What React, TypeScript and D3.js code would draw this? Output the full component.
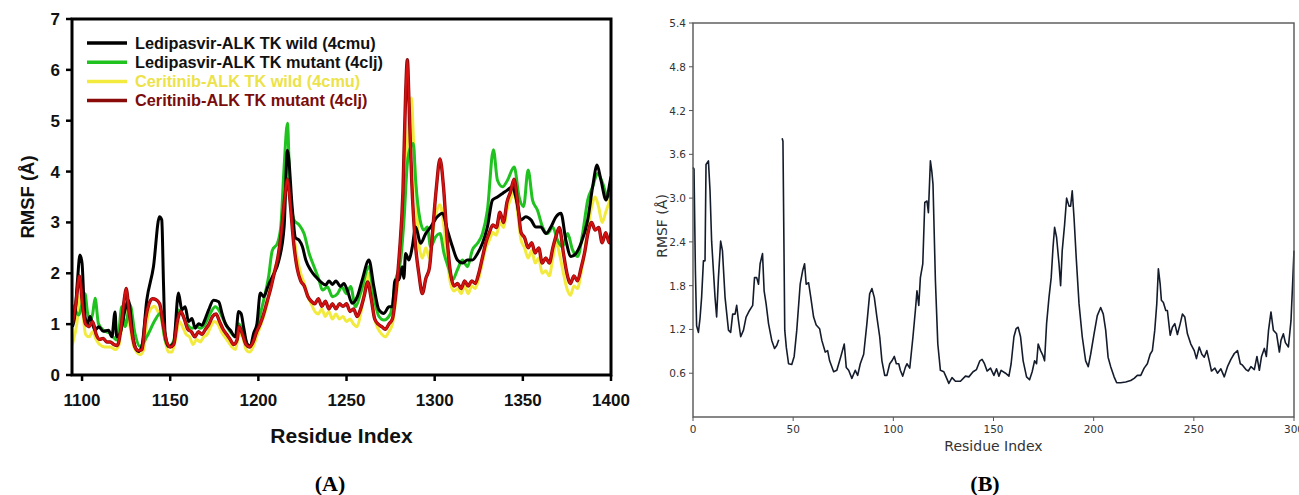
import React from "react";
import * as d3 from "d3";

// ---------- Panel A data (Residue, RMSF Å) ----------
const ledipasvirWild: [number, number][] = [
  [1094.5, 0.95], [1096, 1.2], [1097.5, 1.9], [1098.8, 2.36], [1100, 2.2], [1101, 1.5], [1101.7, 1.15], [1103, 1.0], [1104.5, 1.15],
  [1106, 1.0], [1107.4, 0.88], [1109.5, 0.95], [1112, 0.86], [1115, 0.88], [1116.9, 0.75], [1118.7, 1.24], [1119.6, 0.75],
  [1121.6, 0.82], [1124.4, 1.28], [1126.3, 1.47], [1129.1, 0.69], [1132, 0.46], [1133.9, 0.56], [1136.7, 1.47], [1140.5, 2.13],
  [1143.9, 3.11], [1145.2, 3.05], [1146.2, 1.8], [1147.1, 0.82], [1149, 0.56], [1151.9, 0.62], [1154.7, 1.61], [1156.6, 1.28],
  [1158.5, 1.34], [1160.4, 1.05], [1162.3, 1.11], [1164.2, 0.92], [1166.1, 1.01], [1168, 0.98], [1169.9, 1.11], [1171.8, 1.28],
  [1174.6, 1.47], [1177.5, 1.44], [1179.4, 1.21], [1181.3, 1.01], [1184.1, 0.88], [1187, 0.75], [1188.8, 1.25], [1190.2, 1.21],
  [1191.6, 0.95], [1193.5, 0.62], [1195.4, 0.56], [1197.3, 0.82], [1199.2, 1.01], [1201.1, 1.61], [1203, 1.54], [1205.5, 1.75],
  [1207.9, 1.93], [1211.7, 2.26], [1214.6, 2.91], [1216.5, 4.42], [1219.3, 3.25], [1221, 2.7], [1223.1, 2.65], [1225, 2.52],
  [1226.9, 2.26], [1229.7, 2.06], [1232.6, 1.93], [1235.4, 1.83], [1238.2, 1.77], [1240, 1.85], [1242, 1.78], [1244, 1.85],
  [1246.6, 1.74], [1248.5, 1.8], [1250.4, 1.67], [1253.2, 1.41], [1256.1, 1.54], [1258.9, 1.87], [1262.7, 2.26], [1265.5, 1.74],
  [1268.4, 1.28], [1271.2, 1.21], [1274.1, 1.34], [1276, 1.34], [1277.5, 1.87], [1279.7, 1.87], [1281.6, 2.13], [1282.5, 1.9],
  [1283.5, 2.39], [1285.4, 2.26], [1287.3, 2.52], [1289.2, 2.91], [1292, 2.59], [1294.9, 2.78], [1297.7, 2.91], [1301.5, 3.11],
  [1304.4, 3.18], [1307.2, 2.85], [1310.1, 2.52], [1312.9, 2.26], [1315.7, 2.2], [1318.6, 2.26], [1321.4, 2.26], [1324.3, 2.39],
  [1327.1, 2.59], [1329.9, 2.91], [1332.8, 3.44], [1335.6, 3.5], [1338.5, 3.57], [1341.3, 3.64], [1344.1, 3.7], [1346, 3.5],
  [1348.9, 3.05], [1351.7, 3.11], [1354.6, 3.05], [1357.4, 2.91], [1360.2, 2.91], [1363.1, 2.78], [1365.9, 2.91], [1368.8, 3.11],
  [1371.6, 3.18], [1374.4, 2.65], [1377.3, 2.33], [1380.1, 2.39], [1383, 2.59], [1386.8, 3.05], [1389.6, 3.7], [1392.1, 4.13],
  [1394.3, 3.83], [1397.2, 3.44], [1399.6, 3.83], [1400, 3.9],
];

const ledipasvirMutant: [number, number][] = [
  [1094.5, 1.38], [1096.5, 1.25], [1098.2, 1.18], [1100, 1.4], [1101.7, 1.6], [1103, 1.25], [1104.5, 1.08], [1106, 1.2],
  [1107.4, 1.51], [1109.3, 1.01], [1112.1, 0.88], [1115.9, 0.82], [1119.6, 0.69], [1121, 0.9], [1122.5, 1.34], [1124.4, 0.95],
  [1127.2, 1.38], [1130, 0.82], [1132.8, 0.56], [1136.7, 0.75], [1141.4, 1.08], [1144.3, 1.21], [1147.1, 0.69], [1149, 0.56],
  [1151.9, 0.66], [1154.7, 1.28], [1156.6, 1.21], [1159.4, 1.01], [1162.3, 0.92], [1165.1, 0.95], [1167, 0.92], [1169.9, 1.01],
  [1172.7, 1.21], [1175.6, 1.34], [1177.5, 1.28], [1180.3, 1.08], [1184.1, 0.85], [1187, 0.75], [1188.8, 1.01], [1191.6, 0.82],
  [1194.5, 0.56], [1197.3, 0.69], [1200.2, 1.08], [1203, 1.47], [1205.8, 1.93], [1207.9, 2.45], [1210.8, 2.59], [1212.7, 2.91],
  [1214.6, 4.09], [1216.5, 4.95], [1217.8, 3.77], [1220.2, 3.05], [1223.1, 2.95], [1225.9, 2.78], [1228.8, 2.39], [1231.6, 2.13],
  [1234.4, 1.87], [1236.3, 1.67], [1239.2, 1.73], [1242, 1.54], [1244.9, 1.6], [1247.3, 1.73], [1250, 1.6], [1252.3, 1.74],
  [1255.1, 1.34], [1258, 1.61], [1262.7, 2.13], [1265.5, 1.54], [1268.4, 1.15], [1271.2, 1.08], [1275, 1.21], [1277.9, 1.87],
  [1280.7, 2.26], [1282.6, 3.05], [1284.5, 4.16], [1286.4, 4.49], [1287.9, 4.55], [1289.2, 3.83], [1291.7, 3.05], [1293.9, 2.85],
  [1295.8, 2.91], [1297.7, 2.52], [1300.6, 2.72], [1303, 2.78], [1305.3, 2.39], [1308.2, 2.07], [1310.1, 1.87], [1312.9, 2.07],
  [1315.7, 2.26], [1318.6, 2.13], [1321.4, 2.46], [1324.3, 2.59], [1327.1, 2.78], [1329.9, 3.24], [1333.3, 4.43], [1335.6, 3.83],
  [1338.5, 3.7], [1341.3, 3.83], [1345.1, 4.09], [1347.9, 3.5], [1350.4, 3.31], [1353, 4.03], [1355.5, 3.44], [1358.3, 3.24],
  [1361.2, 2.91], [1364, 2.78], [1366.9, 2.91], [1369.7, 2.65], [1372.5, 2.52], [1375.4, 2.78], [1378.2, 2.46], [1381.1, 2.33],
  [1383.9, 2.78], [1386.8, 3.44], [1389.6, 3.7], [1392.4, 3.96], [1395.3, 3.77], [1398.1, 3.5], [1400, 3.57],
];

const ceritinibWild: [number, number][] = [
  [1094.5, 0.6], [1097, 1.0], [1099, 1.6], [1100.5, 1.2], [1102, 0.8], [1104, 0.75], [1106, 0.85], [1108, 0.7], [1110, 0.6],
  [1113, 0.55], [1116, 0.55], [1119, 0.5], [1121, 0.6], [1123, 1.1], [1125, 1.4], [1127, 1.0], [1129, 0.6], [1131, 0.45],
  [1133, 0.4], [1135, 0.5], [1137, 1.1], [1139, 1.3], [1141, 1.35], [1143, 1.25], [1145, 1.1], [1147, 0.7], [1149, 0.45],
  [1151, 0.45], [1153, 0.7], [1155, 1.05], [1157, 0.95], [1159, 0.8], [1161, 0.75], [1163, 0.6], [1165, 0.7], [1167, 0.65],
  [1169, 0.75], [1171, 0.8], [1173, 0.95], [1175, 1.05], [1177, 1.0], [1179, 0.85], [1181, 0.75], [1183, 0.65], [1185, 0.55],
  [1187, 0.5], [1189, 0.8], [1191, 0.75], [1193, 0.5], [1195, 0.45], [1197, 0.55], [1199, 0.75], [1201, 0.95], [1203, 1.15],
  [1205, 1.4], [1207, 1.75], [1209, 2.05], [1211, 2.3], [1213, 2.8], [1215, 3.8], [1216.5, 4.35], [1218, 3.6], [1220, 2.8],
  [1222, 2.3], [1224, 2.0], [1226, 1.8], [1228, 1.55], [1230, 1.4], [1232, 1.25], [1234, 1.2], [1236, 1.3], [1238, 1.15],
  [1240, 1.25], [1242, 1.1], [1244, 1.2], [1246, 1.1], [1248, 1.15], [1250, 1.05], [1252, 1.1], [1254, 1.0], [1256, 0.95],
  [1258, 1.2], [1260, 1.6], [1262, 2.0], [1264, 1.6], [1266, 1.1], [1268, 0.9], [1270, 0.8], [1272, 0.75], [1274, 0.85],
  [1276, 1.0], [1278, 1.5], [1280, 2.2], [1282, 3.0], [1284, 4.2], [1285.5, 5.2], [1286.8, 5.45], [1288, 4.6], [1289.5, 3.5],
  [1291, 2.6], [1293, 2.3], [1295, 2.5], [1297, 2.3], [1299, 2.8], [1301, 3.2], [1303, 3.35], [1305, 3.0], [1307, 2.3],
  [1309, 1.8], [1311, 1.65], [1313, 1.7], [1315, 1.6], [1317, 1.75], [1319, 1.6], [1321, 1.75], [1323, 1.7], [1325, 1.9],
  [1327, 2.2], [1329, 2.5], [1331, 2.65], [1333, 2.8], [1335, 2.75], [1337, 3.0], [1339, 2.9], [1341, 3.25], [1343, 3.45],
  [1345, 3.6], [1347, 3.2], [1349, 2.65], [1351, 2.5], [1353, 2.3], [1355, 2.45], [1357, 2.2], [1359, 2.3], [1361, 2.0],
  [1363, 2.05], [1365, 1.95], [1367, 2.3], [1369, 2.6], [1371, 2.35], [1373, 2.0], [1375, 1.7], [1377, 1.57], [1379, 1.75],
  [1381, 1.7], [1383, 2.0], [1385, 2.4], [1387, 2.9], [1389, 3.3], [1391, 3.5], [1393, 3.3], [1395, 3.0], [1397, 3.2],
  [1399, 3.4], [1400, 3.5],
];

const ceritinibMutant: [number, number][] = [
  [1094.5, 1.0], [1096.5, 1.4], [1098.5, 1.95], [1100.5, 1.3], [1102, 1.0], [1104, 0.95], [1106, 1.05], [1108, 0.8],
  [1110, 0.7], [1112, 0.72], [1114, 0.65], [1116, 0.65], [1118, 0.6], [1120, 0.58], [1122, 0.9], [1124, 1.5], [1125, 1.7],
  [1126.5, 1.3], [1128, 0.9], [1130, 0.55], [1132, 0.48], [1134, 0.5], [1136, 1.1], [1138, 1.4], [1140, 1.5], [1142, 1.48],
  [1144, 1.4], [1146, 1.0], [1148, 0.65], [1150, 0.55], [1152, 0.6], [1154, 1.05], [1156, 1.25], [1158, 1.1], [1160, 0.9],
  [1162, 0.85], [1164, 0.75], [1166, 0.85], [1168, 0.8], [1170, 0.9], [1172, 1.0], [1174, 1.15], [1176, 1.2], [1178, 1.05],
  [1180, 0.9], [1182, 0.8], [1184, 0.7], [1186, 0.6], [1188, 0.7], [1189, 0.95], [1191, 0.8], [1193, 0.6], [1195, 0.55],
  [1197, 0.65], [1199, 0.85], [1201, 1.0], [1203, 1.2], [1205, 1.45], [1207, 1.7], [1209, 2.0], [1211, 2.3], [1213, 2.8],
  [1215, 3.5], [1216.5, 3.85], [1218, 3.4], [1220, 2.6], [1222, 2.1], [1224, 1.85], [1226, 1.75], [1228, 1.55], [1230, 1.45],
  [1232, 1.4], [1234, 1.5], [1236, 1.35], [1238, 1.45], [1240, 1.3], [1242, 1.4], [1244, 1.3], [1246, 1.4], [1248, 1.35],
  [1250, 1.4], [1252, 1.25], [1254, 1.3], [1256, 1.15], [1258, 1.3], [1260, 1.55], [1262, 1.83], [1264, 1.5], [1266, 1.1],
  [1268, 1.0], [1270, 0.95], [1272, 0.9], [1274, 1.0], [1276, 1.1], [1278, 1.6], [1280, 2.4], [1282, 3.6], [1283.5, 5.5],
  [1284.5, 6.2], [1285.5, 5.3], [1287, 3.8], [1289, 2.6], [1291, 2.0], [1293, 1.6], [1295, 1.9], [1297, 2.1], [1299, 2.9],
  [1301, 3.7], [1303, 4.25], [1305, 3.7], [1307, 2.7], [1309, 2.0], [1311, 1.75], [1313, 1.8], [1315, 1.7], [1317, 1.85],
  [1319, 1.75], [1321, 1.85], [1323, 1.8], [1325, 2.0], [1327, 2.3], [1329, 2.6], [1331, 2.8], [1333, 2.95], [1335, 2.9],
  [1337, 3.2], [1339, 3.0], [1341, 3.4], [1343, 3.6], [1345, 3.85], [1347, 3.4], [1349, 2.8], [1351, 2.7], [1353, 2.5],
  [1355, 2.6], [1357, 2.4], [1359, 2.5], [1361, 2.2], [1363, 2.3], [1365, 2.2], [1367, 2.5], [1369, 2.75], [1370.7, 2.9],
  [1373, 2.4], [1375, 2.0], [1377, 1.8], [1379, 1.95], [1381, 1.85], [1383, 2.1], [1385, 2.4], [1387, 2.8], [1389, 3.0],
  [1391, 2.85], [1393, 2.9], [1395, 2.6], [1397, 2.8], [1399, 2.6], [1400, 2.8],
];

const seriesA = [
  { name: "Ledipasvir-ALK TK wild (4cmu)", data: ledipasvirWild, color: "#000000", legendText: "#111111" },
  { name: "Ledipasvir-ALK TK mutant (4clj)", data: ledipasvirMutant, color: "#1fc21f", legendText: "#111111" },
  { name: "Ceritinib-ALK TK wild (4cmu)", data: ceritinibWild, color: "#f2ea3c", legendText: "#ece24a" },
  { name: "Ceritinib-ALK TK mutant (4clj)", data: ceritinibMutant, color: "#d91010", legendText: "#7a0c0c" },
];
const drawOrderA = [2, 1, 0, 3];
const xTicksA = [1100, 1150, 1200, 1250, 1300, 1350, 1400];
const yTicksA = [0, 1, 2, 3, 4, 5, 6, 7];

// ---------- Panel B data ----------
const rmsfB: [number, number | null][] = [
  [0, 3.42], [0.5, 3.4], [1.2, 2.0], [1.8, 1.25], [2.7, 1.16], [3.5, 1.35], [4.3, 1.64], [5.2, 2.14], [6, 2.14], [6.5, 3.46],
  [7.7, 3.51], [8.5, 3.1], [9.3, 2.41], [10.2, 2.0], [11, 1.64], [11.8, 1.37], [12.7, 1.91], [13.8, 2.41], [14.7, 2.28],
  [16, 1.64], [17.7, 1.19], [18.8, 1.16], [19.8, 1.41], [21, 1.41], [21.8, 1.53], [22.7, 1.32], [23.8, 1.1], [25.2, 1.19],
  [26.5, 1.37], [28.2, 1.46], [29.8, 1.53], [30.7, 1.91], [31.8, 1.91], [32.7, 1.82], [33.5, 2.1], [34.7, 2.24], [35.5, 1.73],
  [36.5, 1.55], [37.7, 1.28], [39.3, 1.05], [40.7, 0.94], [41.8, 0.98], [42.8, 1.06], [43.6, null],
  [44.5, 3.82], [44.9, 3.78], [45.8, 1.19], [46.6, 0.95], [47.7, 0.73], [49.3, 0.72], [50.5, 0.83], [51.8, 1.19], [53.5, 1.82],
  [54.7, 2.0], [55.7, 2.1], [56.5, 1.82], [57.7, 1.84], [58.8, 1.64], [60.2, 1.37], [61.5, 1.26], [63.2, 1.21], [64.3, 1.05],
  [66, 0.89], [67.2, 0.91], [68.2, 0.77], [70.2, 0.62], [71.8, 0.64], [73.8, 0.83], [75.5, 1.0], [76.5, 0.68], [77.7, 0.64],
  [79.3, 0.53], [81, 0.64], [82.2, 0.57], [83.5, 0.73], [85.2, 0.86], [86.8, 1.28], [88.2, 1.69], [89.3, 1.76], [90.5, 1.64],
  [91.8, 1.37], [93.2, 1.1], [94.3, 0.77], [95.7, 0.57], [96.8, 0.57], [98.2, 0.73], [99.3, 0.77], [100.5, 0.83], [101.5, 0.73],
  [102.7, 0.73], [103.5, 0.64], [104.7, 0.56], [106, 0.68], [106.8, 0.73], [108.2, 0.67], [109.8, 1.1], [111, 1.46],
  [111.8, 1.73], [112.7, 1.53], [113.5, 1.91], [114.7, 2.1], [115.7, 2.94], [116.8, 2.96], [117.5, 2.8], [118.5, 3.51],
  [119.2, 3.37], [119.8, 3.19], [121, 1.87], [122.2, 1.0], [123.5, 0.64], [125.2, 0.62], [126, 0.57], [127.7, 0.46],
  [129.3, 0.54], [131, 0.49], [133.5, 0.49], [136, 0.56], [137.7, 0.55], [139.8, 0.62], [141.5, 0.65], [143.2, 0.77],
  [144.3, 0.79], [145.5, 0.73], [146.8, 0.63], [148.5, 0.67], [150.2, 0.57], [151.5, 0.66], [152.7, 0.56], [153.8, 0.64],
  [156, 0.6], [157.7, 0.56], [158.8, 0.73], [160.2, 1.1], [161.3, 1.21], [162.3, 1.23], [163.5, 1.1], [164.8, 0.77],
  [166.5, 0.55], [168, 0.51], [169.3, 0.62], [170.5, 0.77], [171.5, 0.73], [172.3, 1.0], [173.5, 0.91], [174.7, 0.84],
  [175.5, 0.77], [176.5, 1.28], [177.7, 1.64], [178.8, 1.91], [179.7, 2.32], [180.5, 2.6], [181.5, 2.46], [182.7, 2.1],
  [183.5, 1.8], [184.3, 2.28], [185.5, 2.64], [186.5, 3.0], [187.7, 2.89], [188.5, 2.89], [189.3, 3.1], [190.2, 2.73],
  [191.3, 2.18], [192.7, 1.55], [194.3, 1.1], [196, 0.77], [197.3, 0.69], [198.5, 0.86], [200.2, 1.14], [201.8, 1.39],
  [203.5, 1.5], [204.8, 1.41], [206, 1.19], [207.2, 0.82], [208.5, 0.69], [210.2, 0.55], [211.5, 0.47], [213.5, 0.47],
  [216, 0.48], [218.5, 0.5], [220.2, 0.53], [221.8, 0.57], [223.5, 0.57], [225.2, 0.67], [226.8, 0.73], [228.2, 0.86],
  [229.3, 0.91], [230.5, 1.19], [231.5, 1.55], [232.3, 2.03], [233.2, 1.82], [233.8, 1.6], [234.8, 1.57], [236, 1.46],
  [236.8, 1.46], [238.2, 1.12], [239.3, 1.23], [240.5, 1.28], [241.8, 1.13], [243.2, 1.28], [244.3, 1.41], [245.5, 1.37],
  [246.8, 1.14], [248.5, 1.0], [250.2, 0.91], [251.3, 0.8], [252.7, 0.96], [254, 0.86], [255.2, 0.82], [256.5, 0.91],
  [257.7, 0.77], [258.8, 0.63], [260.5, 0.67], [261.8, 0.6], [263.5, 0.66], [265.2, 0.55], [266.8, 0.69], [268.5, 0.79],
  [270.2, 0.87], [271.8, 0.91], [273.2, 0.73], [274.3, 0.71], [276, 0.65], [277.2, 0.63], [278.5, 0.69], [280.2, 0.65],
  [281.5, 0.83], [282.7, 0.64], [283.8, 0.83], [285.2, 0.94], [286.2, 0.83], [287.3, 1.19], [288.5, 1.44], [289.7, 1.19],
  [291.3, 1.14], [292.7, 0.89], [293.5, 1.05], [294.7, 1.14], [295.7, 1.02], [297.2, 0.96], [298.5, 1.32], [299.3, 1.82],
  [300, 2.28],
];
const xTicksB = [0, 50, 100, 150, 200, 250, 300];
const yTicksB = [0.6, 1.2, 1.8, 2.4, 3.0, 3.6, 4.2, 4.8, 5.4];

export default function App() {
  // Panel A geometry
  const A = { l: 72, r: 611, t: 19, b: 375 };
  const xA = d3.scaleLinear().domain([1094.3, 1400]).range([A.l, A.r]);
  const yA = d3.scaleLinear().domain([0, 7]).range([A.b, A.t]);
  const lineA = d3
    .line<[number, number]>()
    .x((d) => xA(d[0]))
    .y((d) => yA(d[1]))
    .curve(d3.curveMonotoneX);

  // Panel B geometry
  const B = { l: 693, r: 1294, t: 23, b: 417 };
  const xB = d3.scaleLinear().domain([0, 300]).range([B.l, B.r]);
  const yB = d3.scaleLinear().domain([0, 5.4]).range([B.b, B.t]);
  const lineB = d3
    .line<[number, number | null]>()
    .defined((d) => d[1] !== null)
    .x((d) => xB(d[0]))
    .y((d) => yB(d[1] as number));

  const fA = "'Liberation Sans', Arial, sans-serif";
  const fB = "'DejaVu Sans', sans-serif";

  return (
    <svg width={1299} height={495} style={{ position: "absolute", left: 0, top: 0, background: "#fff" }}>
      <rect x={0} y={0} width={1299} height={495} fill="#fff" />
      {/* ---------------- Panel A ---------------- */}
      <g>
        <defs>
          <clipPath id="clipA">
            <rect x={A.l} y={A.t} width={A.r - A.l} height={A.b - A.t} />
          </clipPath>
        </defs>
        <g clipPath="url(#clipA)">
          {drawOrderA.map((i) => {
            const s = seriesA[i];
            return (
              <g key={s.name}>
                {i === 3 && (
                  <path d={lineA(s.data) || ""} fill="none" stroke="#8a0a0a" strokeWidth={3.4} strokeLinejoin="round" />
                )}
                <path
                  d={lineA(s.data) || ""}
                  fill="none"
                  stroke={s.color}
                  strokeWidth={i === 3 ? 2 : 3}
                  strokeLinejoin="round"
                />
              </g>
            );
          })}
        </g>
        {/* frame */}
        <rect x={A.l} y={A.t} width={A.r - A.l} height={A.b - A.t} fill="none" stroke="#000" strokeWidth={3} />
        {/* y ticks */}
        {yTicksA.map((t) => (
          <g key={"ya" + t}>
            <line x1={A.l - 6} x2={A.l} y1={yA(t)} y2={yA(t)} stroke="#000" strokeWidth={2.5} />
            <text x={A.l - 12} y={yA(t) + 6} textAnchor="end" fontFamily={fA} fontWeight="bold" fontSize={17} fill="#111">
              {t}
            </text>
          </g>
        ))}
        {/* x ticks */}
        {xTicksA.map((t) => (
          <g key={"xa" + t}>
            <line x1={xA(t)} x2={xA(t)} y1={A.b} y2={A.b + 6} stroke="#000" strokeWidth={2.5} />
            <text x={xA(t)} y={A.b + 31} textAnchor="middle" fontFamily={fA} fontWeight="bold" fontSize={17} fill="#111">
              {t}
            </text>
          </g>
        ))}
        <text
          transform={`translate(34,${(A.t + A.b) / 2}) rotate(-90)`}
          textAnchor="middle"
          fontFamily={fA}
          fontWeight="bold"
          fontSize={18.5}
          fill="#111"
        >
          RMSF (Å)
        </text>
        <text x={(A.l + A.r) / 2} y={443} textAnchor="middle" fontFamily={fA} fontWeight="bold" fontSize={21} fill="#111">
          Residue Index
        </text>
        {/* legend */}
        {seriesA.map((s, i) => {
          const y = 43 + i * 19.2;
          return (
            <g key={"lg" + i}>
              <line x1={87} x2={127} y1={y} y2={y} stroke={i === 3 ? "#8a0a0a" : s.color} strokeWidth={3.5} />
              <text x={135} y={y + 5.8} fontFamily={fA} fontWeight="bold" fontSize={16.3} fill={s.legendText}>
                {s.name}
              </text>
            </g>
          );
        })}
        <text x={330} y={491} textAnchor="middle" fontFamily="'Liberation Serif', 'Times New Roman', serif" fontWeight="bold" fontSize={22} fill="#000">
          (A)
        </text>
      </g>

      {/* ---------------- Panel B ---------------- */}
      <g>
        <path d={lineB(rmsfB) || ""} fill="none" stroke="#141c2c" strokeWidth={1.6} strokeLinejoin="round" />
        <rect x={B.l} y={B.t} width={B.r - B.l} height={B.b - B.t} fill="none" stroke="#555" strokeWidth={1.4} />
        {yTicksB.map((t) => (
          <g key={"yb" + t}>
            <line x1={B.l - 4} x2={B.l} y1={yB(t)} y2={yB(t)} stroke="#555" strokeWidth={1} />
            <text x={B.l - 7} y={yB(t) + 4} textAnchor="end" fontFamily={fB} fontSize={10.5} fill="#333">
              {t.toFixed(1)}
            </text>
          </g>
        ))}
        {xTicksB.map((t) => (
          <g key={"xb" + t}>
            <line x1={xB(t)} x2={xB(t)} y1={B.b} y2={B.b + 4} stroke="#555" strokeWidth={1} />
            <text x={xB(t)} y={B.b + 16} textAnchor="middle" fontFamily={fB} fontSize={10.5} fill="#333">
              {t}
            </text>
          </g>
        ))}
        <text
          transform={`translate(667,${(B.t + B.b) / 2 + 6}) rotate(-90)`}
          textAnchor="middle"
          fontFamily={fB}
          fontSize={14}
          fill="#333"
        >
          RMSF (Å)
        </text>
        <text x={(B.l + B.r) / 2} y={451} textAnchor="middle" fontFamily={fB} fontSize={14} fill="#333">
          Residue Index
        </text>
        <text x={985} y={491} textAnchor="middle" fontFamily="'Liberation Serif', 'Times New Roman', serif" fontWeight="bold" fontSize={22} fill="#000">
          (B)
        </text>
      </g>
    </svg>
  );
}
